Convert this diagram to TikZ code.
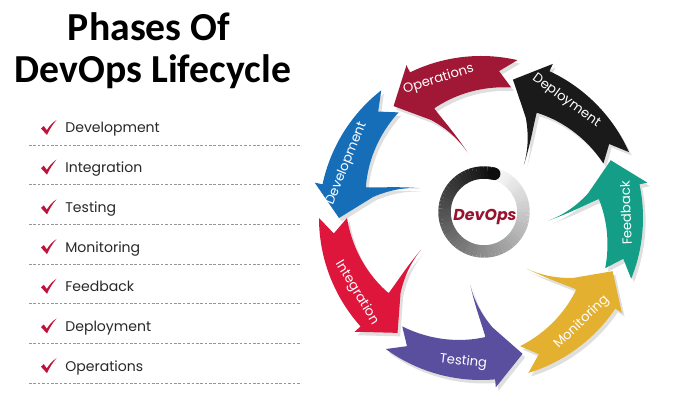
\documentclass[tikz,border=0pt]{standalone}
\usepackage{fontspec}
\usetikzlibrary{shadows}
\newfontfamily\popfont{Poppins}
\newfontfamily\titlefont{Carlito}
\definecolor{fbteal}{RGB}{20,158,135}
\definecolor{dpblack}{RGB}{26,26,26}
\definecolor{opred}{RGB}{160,24,54}
\definecolor{dvblue}{RGB}{22,110,185}
\definecolor{inred}{RGB}{222,22,60}
\definecolor{tspurple}{RGB}{90,78,158}
\definecolor{mngold}{RGB}{228,176,48}
\definecolor{chkred}{RGB}{190,20,60}
\definecolor{devred}{RGB}{150,20,45}
\definecolor{itemgray}{RGB}{40,40,40}
\definecolor{sepgray}{RGB}{150,150,150}
\tikzset{
  phase/.style={font=\popfont\fontsize{7.5}{9}\selectfont, text=white, inner sep=0pt},
  item/.style={anchor=base west, font=\popfont\fontsize{8}{10}\selectfont, text=itemgray, inner sep=0pt},
  sep/.style={draw=sepgray, dash pattern=on 1.5pt off 1pt, line width=0.5pt},
  ttl/.style={anchor=base, font=\titlefont\bfseries\fontsize{22.6}{24}\selectfont},
  chk/.pic={\fill[chkred] (0,6.5) -- (2.8,9) -- (5.8,4.8) .. controls (8.5,9) and (11.5,12.5) .. (15.5,15)
      .. controls (11.5,10.5) and (8.5,5.5) .. (6,0) -- cycle;}
}
\begin{document}
\begin{tikzpicture}[x=0.02cm, y=0.02cm]
  \useasboundingbox (0,0) rectangle (680,411);

  % title
  \node[ttl] (title1) at (149,370) {Phases Of};
  \node[ttl] (title2) at (153,328) {DevOps Lifecycle};

  % list of phases
  \foreach \nm [count=\i from 0] in {Development, Integration, Testing, Monitoring, Feedback, Deployment, Operations}{
    \pic at (41,{276-39.7*\i}) {chk};
    \node[item] (item\i) at (65,{278-39.7*\i}) {\nm};
    \draw[sep] (29,{266-39.7*\i}) -- (300,{266-39.7*\i});
  }

  % cycle of arrows
  \coordinate (O) at (481,193);
  \begin{scope}[shift={(O)}]
    \foreach \ta/\tp/\lb/\rt/\nm/\cl in {-22/24/2/92/Feedback/fbteal, 24/77/54/-36/Deployment/dpblack,
        77/128/107/17/Operations/opred, 128/180/158/68/Development/dvblue,
        180/234/211/301/Integration/inred, 234/287/263/353/Testing/tspurple,
        287/338/314/44/Monitoring/mngold}{
      \fill[\cl, drop shadow={opacity=.25, shadow xshift=1.5pt, shadow yshift=-2pt}]
        (\ta:162) arc[start angle=\ta, end angle=\tp-12, radius=162]
        -- ({\tp-12}:170) -- (\tp:142) -- ({\tp-11}:110)
        .. controls ({\tp-17}:96) and ({\tp-22}:82) .. ({\tp-26}:68)
        .. controls ({\tp-21}:88) and ({\tp-17}:104) .. ({\tp-15}:118)
        -- plot[domain=\tp-15:\ta, samples=20] (\x:{134-16*(\x-\ta)/(\tp-12-\ta)})
        -- ({\ta+6}:148) -- cycle;
      \node[phase, rotate=\rt] (\nm) at (\lb:145) {\nm};
    }
  \end{scope}

  % centre ring
  \coordinate (C) at (484,199);
  \begin{scope}[shift={(C)}]
    \foreach \i in {0,...,71}{
      \pgfmathtruncatemacro\p{95-1.3*\i}
      \draw[line width=0.25cm, black!\p!white] ({75+5*\i}:39.5) arc[start angle={75+5*\i}, end angle={80.6+5*\i}, radius=39.5];
    }
    \fill[black!95] (75:39.5) circle[radius=6.25];
  \end{scope}
  \node[font=\popfont\bfseries\itshape\fontsize{9}{10}\selectfont, text=devred] (core) at (485,194) {DevOps};
\end{tikzpicture}
\end{document}
